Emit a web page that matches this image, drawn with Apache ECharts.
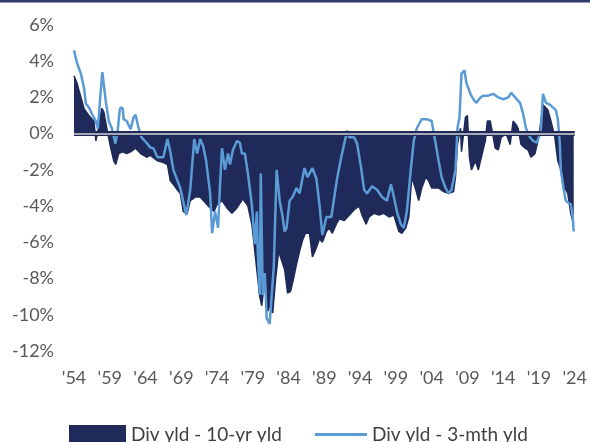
<!DOCTYPE html>
<html>
<head>
<meta charset="utf-8">
<script src="https://cdn.jsdelivr.net/npm/echarts@6/dist/echarts.min.js"></script>
<style>
html,body{margin:0;padding:0;background:#fff;}
#chart{width:590px;height:442px;}
</style>
</head>
<body>
<div id="chart"></div>
<script>
const START_YEAR = 1954;
const END_YEAR = 2024;
const xTickLabels = ["'54","'59","'64","'69","'74","'79","'84","'89","'94","'99","'04","'09","'14","'19","'24"];
const seriesNames = ["Div yld - 10-yr yld", "Div yld - 3-mth yld"];

const tenYrDates = [1954.00,1954.42,1954.69,1955.39,1956.08,1956.78,1957.06,1957.47,1957.89,1958.17,1958.58,1959.14,1959.56,1959.83,1960.25,1960.81,1961.36,1961.92,1962.61,1963.31,1964.14,1964.69,1965.67,1966.50,1967.06,1967.47,1967.89,1968.44,1968.86,1969.28,1969.83,1970.25,1970.94,1971.64,1972.33,1973.03,1973.58,1974.00,1974.69,1975.39,1976.08,1976.78,1977.61,1978.31,1978.86,1979.28,1979.69,1979.97,1980.25,1980.67,1981.08,1981.36,1981.78,1982.19,1982.61,1983.03,1983.44,1983.86,1984.28,1984.69,1985.11,1985.53,1985.94,1986.36,1986.92,1987.33,1987.89,1988.31,1988.72,1989.28,1989.69,1990.11,1990.67,1991.08,1991.78,1992.47,1993.17,1993.86,1994.28,1994.83,1995.25,1995.94,1996.64,1997.33,1998.03,1998.72,1999.42,1999.83,2000.39,2000.81,2001.22,2001.78,2002.19,2002.61,2003.17,2003.58,2004.00,2004.56,2004.97,2005.67,2006.36,2007.06,2007.33,2007.61,2008.03,2008.17,2008.72,2009.00,2009.28,2009.56,2010.11,2010.53,2010.94,2011.50,2011.78,2012.19,2012.61,2012.89,2013.31,2013.72,2014.42,2014.97,2015.39,2015.81,2016.08,2016.50,2017.06,2017.47,2017.89,2018.44,2018.86,2019.14,2019.56,2019.83,2020.25,2020.67,2021.22,2021.64,2022.06,2022.33,2023.03,2023.44,2023.86];
const tenYrValues = [3.2,2.8,2.4,1.4,1.0,0.7,-0.4,0.4,1.4,1.2,0.3,-0.8,-1.5,-1.7,-1.1,-1.0,-1.1,-1.0,-0.8,-1.1,-1.3,-1.2,-1.5,-1.6,-1.7,-2.6,-2.8,-3.1,-3.3,-4.3,-4.4,-3.7,-3.5,-3.5,-3.8,-4.1,-4.3,-3.9,-3.7,-4.1,-4.4,-4.1,-3.6,-4.0,-5.0,-6.5,-8.0,-9.0,-9.5,-8.0,-9.8,-9.5,-9.9,-8.0,-6.5,-7.0,-7.5,-8.8,-8.7,-8.0,-7.2,-6.5,-5.9,-5.5,-5.5,-6.8,-6.3,-5.8,-6.0,-5.4,-5.2,-5.5,-5.0,-4.7,-4.8,-4.5,-4.2,-4.0,-4.5,-5.0,-4.6,-4.4,-4.5,-4.4,-4.6,-4.5,-5.4,-5.5,-5.2,-4.6,-2.4,-3.1,-3.7,-3.0,-2.4,-2.6,-3.0,-3.0,-3.0,-3.2,-3.3,-3.2,-2.4,-0.6,0.3,-1.0,0.9,1.0,-1.3,-2.0,-1.5,-2.0,-1.3,-0.4,0.7,0.7,-0.2,-0.8,-0.9,-0.2,0.0,-0.6,0.7,0.5,0.3,-0.6,-0.8,-0.9,-1.3,-1.1,-0.4,0.3,1.6,1.7,1.3,0.7,-0.2,-1.5,-2.0,-2.8,-3.3,-4.4,-5.0];

const threeMthDates = [1954.00,1954.14,1954.42,1954.97,1955.39,1955.67,1956.08,1956.50,1957.06,1957.33,1957.75,1957.96,1958.17,1958.44,1958.86,1959.28,1959.79,1960.11,1960.39,1960.53,1960.81,1960.94,1961.36,1961.92,1962.33,1962.61,1963.03,1963.44,1964.14,1964.69,1965.11,1965.67,1966.50,1967.06,1967.47,1967.89,1968.86,1969.69,1970.25,1970.81,1971.22,1971.64,1972.06,1972.47,1973.03,1973.31,1973.72,1974.14,1974.42,1974.69,1975.11,1975.53,1975.81,1976.22,1976.78,1977.19,1977.47,1977.89,1978.31,1978.86,1979.28,1979.56,1979.69,1979.97,1980.11,1980.39,1980.67,1980.94,1981.08,1981.36,1981.64,1981.92,1982.33,1982.75,1983.17,1983.44,1983.72,1984.14,1984.56,1985.11,1985.53,1986.22,1986.64,1987.33,1987.89,1988.31,1988.72,1989.28,1989.97,1990.39,1990.81,1991.36,1991.78,1992.19,1992.47,1993.17,1993.58,1994.14,1994.56,1994.97,1995.67,1996.36,1997.06,1997.75,1998.31,1998.72,1999.14,1999.69,2000.11,2000.53,2001.08,2001.50,2001.92,2002.61,2003.31,2004.00,2004.56,2004.97,2005.39,2005.94,2006.36,2006.78,2007.33,2007.61,2007.89,2008.17,2008.58,2008.86,2009.42,2009.83,2010.25,2010.81,2011.22,2011.92,2012.61,2013.31,2014.00,2014.69,2015.11,2015.67,2016.36,2016.78,2017.19,2017.75,2018.17,2018.72,2019.14,2019.28,2019.56,2019.69,2019.97,2020.53,2020.94,2021.36,2021.64,2021.92,2022.06,2022.47,2022.75,2023.03,2023.44,2023.72,2023.86];
const threeMthValues = [4.6,4.55,3.9,3.3,2.55,1.65,1.45,1.1,0.7,0.27,2.4,3.4,3.4,1.8,0.7,0.3,-0.55,0.17,1.3,1.45,1.4,0.8,0.7,0.25,0.9,1.05,0.3,-0.2,-0.5,-0.77,-0.8,-1.3,-1.3,-0.3,-1.0,-2.0,-3.0,-4.5,-3.1,-0.3,-1.1,-0.3,-0.7,-1.5,-3.3,-5.5,-4.3,-5.2,-2.8,-0.8,-2.0,-1.1,-1.7,-0.9,-0.4,-0.5,-1.1,-1.1,-2.2,-3.9,-6.1,-4.3,-6.5,-8.9,-2.2,-8.9,-7.7,-10.2,-10.3,-10.5,-8.9,-7.4,-2.0,-3.7,-4.6,-5.4,-5.2,-3.7,-3.5,-3.0,-3.3,-1.9,-2.4,-1.9,-2.5,-3.9,-5.6,-4.6,-4.6,-3.5,-2.4,-1.3,-0.55,0.17,-0.2,-0.2,-0.55,-1.9,-3.1,-3.3,-2.9,-3.1,-3.5,-3.7,-2.8,-3.5,-4.3,-5.0,-5.2,-4.3,-2.0,-0.4,0.3,0.8,0.8,0.7,-0.55,-1.5,-2.4,-3.0,-3.3,-3.1,-2.0,0.3,0.9,3.3,3.5,2.8,2.2,1.9,1.7,2.0,2.1,2.1,2.2,2.0,1.9,2.0,2.25,2.0,1.7,1.1,0.3,-0.2,-0.4,-0.5,0.0,0.3,2.2,2.2,1.7,1.6,1.45,1.3,0.8,-0.55,-2.0,-3.1,-3.7,-3.8,-3.9,-4.6,-5.4];

const NAVY = '#1F2A5A';
const LIGHT = '#5B9BD5';
const FONT = 'Lato, "Open Sans", sans-serif';

function toPairs(dates, values) {
  return dates.map((d, i) => [d - START_YEAR, values[i]]);
}

const chart = echarts.init(document.getElementById('chart'), null, {renderer: 'canvas'});
chart.setOption({
  animation: false,
  backgroundColor: '#ffffff',
  graphic: [{
    type: 'rect', left: 0, top: 0, z: 10,
    shape: {width: 590, height: 2.5},
    style: {fill: '#2F3A68'}
  }],
  grid: {left: 74, right: 13, top: 25, bottom: 91, containLabel: false},
  legend: [{
    data: [{name: seriesNames[0], icon: 'rect', itemStyle: {color: NAVY}}],
    left: 69, top: 425, padding: 0, itemWidth: 57, itemHeight: 19,
    textStyle: {fontFamily: FONT, fontSize: 19, color: '#404040'},
    selectedMode: false
  }, {
    data: [{name: seriesNames[1], icon: 'path://M0,0L52,0L52,3L0,3Z', itemStyle: {color: LIGHT}}],
    left: 315, top: 425, padding: 0, itemWidth: 52, itemHeight: 19,
    symbolKeepAspect: true,
    textStyle: {fontFamily: FONT, fontSize: 19, color: '#404040'},
    selectedMode: false
  }],
  xAxis: {
    type: 'value', min: 0, max: END_YEAR - START_YEAR, interval: 5,
    axisLine: {show: false, onZero: false},
    axisTick: {show: false},
    splitLine: {show: false},
    axisLabel: {
      margin: 18, fontFamily: FONT, fontSize: 18, color: '#595959',
      formatter: v => xTickLabels[Math.round(v / 5)] || ''
    }
  },
  yAxis: {
    type: 'value', min: -12, max: 6, interval: 2,
    axisLine: {show: false}, axisTick: {show: false}, splitLine: {show: false},
    axisLabel: {margin: 20, fontFamily: FONT, fontSize: 18, color: '#595959', formatter: v => v + '%'}
  },
  series: [{
    name: seriesNames[0], type: 'line', showSymbol: false, symbol: 'none',
    data: toPairs(tenYrDates, tenYrValues),
    lineStyle: {color: NAVY, width: 1.5},
    itemStyle: {color: NAVY},
    areaStyle: {color: NAVY, opacity: 1},
    z: 2,
    markLine: {
      silent: true, symbol: 'none', label: {show: false}, animation: false,
      data: [
        {yAxis: 0, lineStyle: {color: NAVY, width: 5, type: 'solid'}},
        {yAxis: 0, lineStyle: {color: '#D4D4D4', width: 1.5, type: 'solid'}}
      ]
    }
  }, {
    name: seriesNames[1], type: 'line', showSymbol: false, symbol: 'none',
    data: toPairs(threeMthDates, threeMthValues),
    lineStyle: {color: LIGHT, width: 2.5},
    itemStyle: {color: LIGHT},
    z: 3
  }]
});
</script>
</body>
</html>
